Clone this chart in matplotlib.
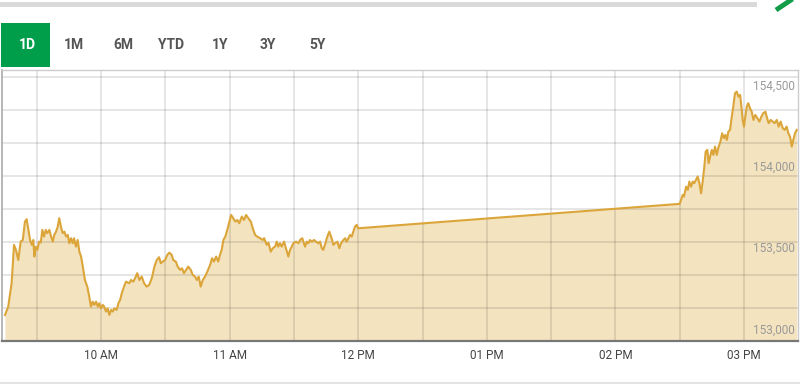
import matplotlib
matplotlib.use("Agg")
import matplotlib.pyplot as plt
from matplotlib.patches import Rectangle
from matplotlib.lines import Line2D
from matplotlib.transforms import blended_transform_factory
import numpy as np

plt.rcParams['font.family'] = ['Roboto', 'DejaVu Sans']

# ---- data: minutes after 09:00 and index level ----
morning_minutes = [
    15.2, 16.7, 18.3, 19.4, 20.3, 21.4, 22.5, 23.5, 24.5, 25.3, 26.1, 26.9, 27.7, 28.4, 28.9,
    29.5, 30.3, 31.1, 31.9, 32.6, 33.4, 34.2, 34.9, 35.9, 36.7, 37.5, 38.2, 39.0, 39.8, 40.5,
    41.3, 42.1, 42.9, 43.7, 44.5, 45.2, 46.0, 46.8, 47.4, 48.3, 49.1, 49.9, 50.7, 51.5, 52.5,
    53.6, 54.5, 55.3, 56.1, 56.9, 57.7, 58.5, 59.2, 60.0, 60.8, 61.5, 62.3, 63.1, 63.9, 64.7,
    65.5, 66.2, 67.3, 68.1, 68.9, 69.7, 70.7, 71.7, 73.2, 74.0, 75.1, 75.9, 76.9, 77.9, 79.0,
    80.1, 81.3, 82.5, 83.7, 84.9, 86.0, 87.1, 87.9, 88.8, 89.9, 90.9, 91.9, 93.0, 93.7, 94.9,
    95.8, 96.9, 97.8, 98.7, 99.7, 100.7, 101.9, 102.8, 103.9, 104.7, 105.6, 106.5, 107.5, 108.5,
    109.6, 110.9, 111.8, 112.7, 113.7, 114.7, 115.5, 116.3, 117.1, 118.0, 118.9, 119.9, 120.7,
    121.7, 122.7, 123.6, 124.5, 125.7, 126.7, 127.7, 128.7, 129.9, 130.8, 131.9, 132.9, 134.2,
    135.4, 136.1, 137.3, 138.1, 139.2, 140.1, 141.2, 142.0, 142.7, 143.5, 144.3, 145.4, 146.3,
    147.4, 148.2, 149.0, 149.7, 151.0, 152.1, 152.9, 153.9, 155.2, 156.0, 156.7, 157.5, 158.3,
    159.4, 160.3, 161.4, 162.2, 163.0, 163.7, 164.7, 165.6, 166.5, 167.6, 168.4, 169.2, 170.3,
    171.2, 172.0, 173.1, 173.9, 174.6, 175.4, 176.2, 177.0, 177.7, 178.5, 179.3, 180.0,
]
morning_prices = [
    153092, 153143, 153289, 153523, 153492, 153430, 153543, 153553, 153666, 153681, 153615,
    153553, 153523, 153553, 153451, 153512, 153492, 153543, 153537, 153615, 153574, 153615,
    153595, 153615, 153574, 153543, 153584, 153604, 153635, 153687, 153635, 153595, 153604,
    153574, 153584, 153533, 153564, 153533, 153564, 153512, 153553, 153481, 153451, 153389,
    153307, 153266, 153205, 153143, 153174, 153154, 153174, 153143, 153164, 153133, 153154,
    153143, 153113, 153133, 153092, 153123, 153113, 153133, 153123, 153164, 153184, 153226,
    153266, 153297, 153287, 153307, 153297, 153318, 153349, 153307, 153328, 153287, 153266,
    153277, 153318, 153389, 153430, 153447, 153410, 153420, 153430, 153461, 153475, 153461,
    153430, 153420, 153389, 153369, 153379, 153349, 153369, 153389, 153369, 153338, 153328,
    153307, 153328, 153266, 153307, 153328, 153358, 153400, 153441, 153420, 153451, 153420,
    153461, 153492, 153553, 153574, 153615, 153666, 153707, 153687, 153666, 153676, 153656,
    153697, 153676, 153707, 153687, 153666, 153625, 153584, 153574, 153564, 153553, 153564,
    153523, 153537, 153481, 153502, 153512, 153543, 153512, 153533, 153512, 153543, 153502,
    153451, 153492, 153512, 153533, 153543, 153533, 153553, 153564, 153512, 153543, 153533,
    153553, 153543, 153553, 153543, 153533, 153543, 153502, 153492, 153533, 153574, 153604,
    153564, 153523, 153533, 153543, 153502, 153533, 153553, 153564, 153543, 153564, 153584,
    153574, 153604, 153635, 153646, 153625,
]
afternoon_minutes = [
    330.0, 331.4, 332.0, 333.0, 333.8, 334.5, 335.3, 336.1, 336.8, 337.6, 338.4, 339.2, 340.0,
    340.8, 341.5, 342.1, 342.9, 343.5, 344.2, 345.0, 345.7, 346.5, 347.3, 348.2, 349.0, 349.8,
    350.6, 351.3, 352.0, 352.7, 353.5, 354.3, 355.0, 355.8, 356.6, 357.4, 358.2, 358.8, 359.4,
    360.0, 360.6, 361.3, 362.0, 362.8, 363.6, 364.4, 365.3, 366.2, 367.2, 368.1, 369.0, 370.0,
    370.6, 371.5, 372.5, 373.4, 374.3, 375.3, 376.2, 377.1, 378.1, 379.0, 379.9, 380.7, 381.5,
    382.3, 383.0, 383.8, 384.6,
]
afternoon_prices = [
    153775, 153830, 153820, 153881, 153861, 153912, 153881, 153912, 153902, 153922, 153943,
    153902, 153840, 153922, 154004, 154096, 154107, 154025, 154066, 154107, 154076, 154127,
    154076, 154127, 154158, 154209, 154179, 154199, 154168, 154219, 154230, 154311, 154373,
    154455, 154465, 154434, 154445, 154373, 154291, 154250, 154311, 154373, 154394, 154363,
    154342, 154291, 154322, 154302, 154281, 154311, 154332, 154342, 154311, 154271, 154291,
    154281, 154271, 154291, 154250, 154281, 154240, 154230, 154250, 154209, 154188, 154127,
    154168, 154209, 154230,
]

tab_labels = ["1D", "1M", "6M", "YTD", "1Y", "3Y", "5Y"]
active_tab = "1D"
hour_tick_minutes = [60, 120, 180, 240, 300, 360]
hour_tick_labels = ["10 AM", "11 AM", "12 PM", "01 PM", "02 PM", "03 PM"]
price_label_values = [153000, 153500, 154000, 154500]

# ---- figure ----
W, H = 800, 384
fig = plt.figure(figsize=(W / 100, H / 100), dpi=100)
fig.patch.set_facecolor('white')


def fx(x):
    return x / W


def fy(y):
    return 1 - y / H


# header decorations
fig.add_artist(Rectangle((fx(0), fy(7)), fx(757), 5 / H, transform=fig.transFigure,
                         color='#d9d9d9', lw=0))
fig.add_artist(Line2D([fx(776), fx(794)], [fy(10), fy(-2)], transform=fig.transFigure,
                      color='#119c48', lw=3.5, solid_capstyle='butt'))
fig.add_artist(Rectangle((fx(1), fy(67)), 49 / W, 44 / H, transform=fig.transFigure,
                         color='#009e4a', lw=0))
tab_x = [27, 74, 123, 171, 220, 268, 317]
for lab, x in zip(tab_labels, tab_x):
    fig.text(fx(x), fy(45), lab, ha='center', va='center', fontsize=10, fontweight='bold',
             color='white' if lab == active_tab else '#555555')

# bottom rule
fig.add_artist(Line2D([0, 1], [fy(382.5), fy(382.5)], transform=fig.transFigure,
                      color='#e3e3e3', lw=1.5))

ax = fig.add_axes([fx(2), fy(341), fx(798) - fx(2), fy(70) - fy(341)])
minutes = np.array(morning_minutes + afternoon_minutes)
prices = np.array(morning_prices + afternoon_prices)
ymin, ymax = 152932, 154598
ax.set_xlim(13.8, 385.2)
ax.set_ylim(ymin, ymax)
ax.set_facecolor('white')

ax.fill_between(minutes, prices, ymin, color='#f3e3bf', lw=0, zorder=1)
ax.plot(minutes, prices, color='#dba53a', lw=1.5, zorder=3, solid_joinstyle='round')

# grid
for m in range(30, 361, 30):
    ax.axvline(m, color='black', alpha=0.11, lw=1.3, zorder=2)
for k in range(1, 9):
    ax.axhline(ymin + 203 * k, color='black', alpha=0.11, lw=1.3, zorder=2)

ax.set_xticks(hour_tick_minutes, hour_tick_labels)
ax.tick_params(axis='x', length=0, pad=6, labelsize=8.5, labelcolor='#444444')
ax.set_yticks([])

tr = blended_transform_factory(ax.transAxes, ax.transData)
for v in price_label_values:
    ax.text(0.996, v, f"{v:,}", transform=tr, ha='right', va='center', fontsize=8.5,
            color='#9a9a9a', zorder=4)

ax.spines['bottom'].set_color('#777777')
ax.spines['bottom'].set_linewidth(1.6)
ax.spines['left'].set_color('#aaaaaa')
ax.spines['left'].set_linewidth(1.2)
ax.spines['top'].set_color('#cccccc')
ax.spines['top'].set_linewidth(1.0)
ax.spines['right'].set_color('#cccccc')
ax.spines['right'].set_linewidth(1.0)

fig.savefig('out.png', dpi=100)
